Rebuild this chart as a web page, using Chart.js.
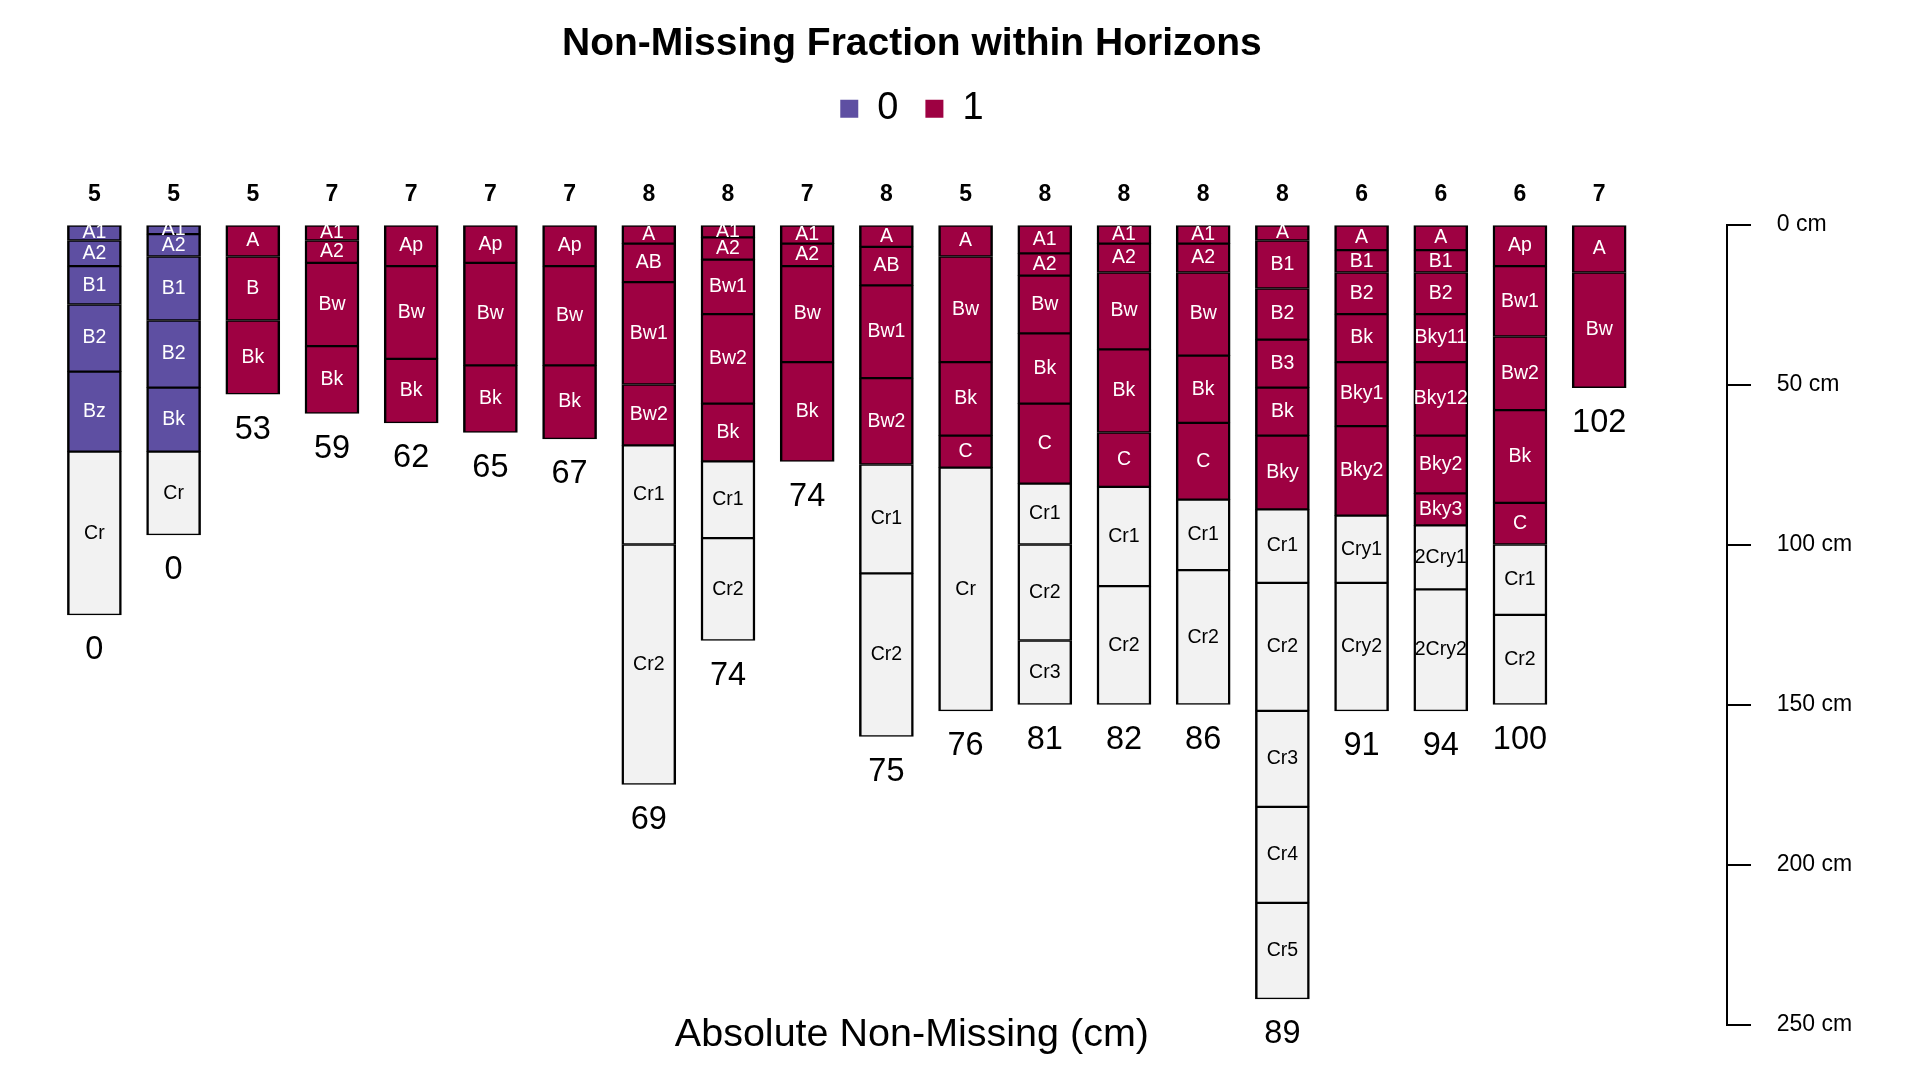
<!DOCTYPE html>
<html>
<head>
<meta charset="utf-8">
<script src="https://cdn.jsdelivr.net/npm/chart.js@4/dist/chart.umd.min.js"></script>
<style>
  html, body { margin: 0; padding: 0; background: #ffffff; }
  #wrap { width: 1920px; height: 1080px; }
</style>
</head>
<body>
<div id="wrap"><canvas id="c" width="1920" height="1080"></canvas></div>
<script>
// ---------------- DATA ----------------
const chartTitle = 'Non-Missing Fraction within Horizons';
const xAxisTitle = 'Absolute Non-Missing (cm)';

// number of horizons shown above each profile
const horizonCounts = [5, 5, 5, 7, 7, 7, 7, 8, 8, 7, 8, 5, 8, 8, 8, 8, 6, 6, 6, 7];
// absolute non-missing depth (cm) shown below each profile
const absNonMissing = [0, 0, 53, 59, 62, 65, 67, 69, 74, 74, 75, 76, 81, 82, 86, 89, 91, 94, 100, 102];

// horizon designations per profile
const horizonNames = [
  ['A1', 'A2', 'B1', 'B2', 'Bz', 'Cr'],
  ['A1', 'A2', 'B1', 'B2', 'Bk', 'Cr'],
  ['A', 'B', 'Bk'],
  ['A1', 'A2', 'Bw', 'Bk'],
  ['Ap', 'Bw', 'Bk'],
  ['Ap', 'Bw', 'Bk'],
  ['Ap', 'Bw', 'Bk'],
  ['A', 'AB', 'Bw1', 'Bw2', 'Cr1', 'Cr2'],
  ['A1', 'A2', 'Bw1', 'Bw2', 'Bk', 'Cr1', 'Cr2'],
  ['A1', 'A2', 'Bw', 'Bk'],
  ['A', 'AB', 'Bw1', 'Bw2', 'Cr1', 'Cr2'],
  ['A', 'Bw', 'Bk', 'C', 'Cr'],
  ['A1', 'A2', 'Bw', 'Bk', 'C', 'Cr1', 'Cr2', 'Cr3'],
  ['A1', 'A2', 'Bw', 'Bk', 'C', 'Cr1', 'Cr2'],
  ['A1', 'A2', 'Bw', 'Bk', 'C', 'Cr1', 'Cr2'],
  ['A', 'B1', 'B2', 'B3', 'Bk', 'Bky', 'Cr1', 'Cr2', 'Cr3', 'Cr4', 'Cr5'],
  ['A', 'B1', 'B2', 'Bk', 'Bky1', 'Bky2', 'Cry1', 'Cry2'],
  ['A', 'B1', 'B2', 'Bky11', 'Bky12', 'Bky2', 'Bky3', '2Cry1', '2Cry2'],
  ['Ap', 'Bw1', 'Bw2', 'Bk', 'C', 'Cr1', 'Cr2'],
  ['A', 'Bw']
];

// horizon bottom depths (cm) per profile
const horizonBottoms = [
  [5, 13, 25, 46, 71, 122],
  [3, 10, 30, 51, 71, 97],
  [10, 30, 53],
  [5, 12, 38, 59],
  [13, 42, 62],
  [12, 44, 65],
  [13, 44, 67],
  [6, 18, 50, 69, 100, 175],
  [4, 11, 28, 56, 74, 98, 130],
  [6, 13, 43, 74],
  [7, 19, 48, 75, 109, 160],
  [10, 43, 66, 76, 152],
  [9, 16, 34, 56, 81, 100, 130, 150],
  [6, 15, 39, 65, 82, 113, 150],
  [6, 15, 41, 62, 86, 108, 150],
  [5, 20, 36, 51, 66, 89, 112, 152, 182, 212, 242],
  [8, 15, 28, 43, 63, 91, 112, 152],
  [8, 15, 28, 43, 66, 84, 94, 114, 152],
  [13, 35, 58, 87, 100, 122, 150],
  [15, 51]
];

// non-missing fraction per horizon (null = not evaluated / NA)
const horizonFraction = [
  [0, 0, 0, 0, 0, null],
  [0, 0, 0, 0, 0, null],
  [1, 1, 1],
  [1, 1, 1, 1],
  [1, 1, 1],
  [1, 1, 1],
  [1, 1, 1],
  [1, 1, 1, 1, null, null],
  [1, 1, 1, 1, 1, null, null],
  [1, 1, 1, 1],
  [1, 1, 1, 1, null, null],
  [1, 1, 1, 1, null],
  [1, 1, 1, 1, 1, null, null, null],
  [1, 1, 1, 1, 1, null, null],
  [1, 1, 1, 1, 1, null, null],
  [1, 1, 1, 1, 1, 1, null, null, null, null, null],
  [1, 1, 1, 1, 1, 1, null, null],
  [1, 1, 1, 1, 1, 1, 1, null, null],
  [1, 1, 1, 1, 1, null, null],
  [1, 1]
];

const legendLabels = ['0', '1'];
const depthTicks = [0, 50, 100, 150, 200, 250];

// ---------------- STYLE ----------------
const FONT = '"Liberation Sans", Arial, Helvetica, sans-serif';
const COLOR_0 = '#5E4FA2';
const COLOR_1 = '#9E0142';
const COLOR_NA = '#F2F2F2';
function fracColor(f) { return f === null ? COLOR_NA : (f === 0 ? COLOR_0 : COLOR_1); }

// widest depth label, used to left-align the mirrored depth labels
const mctx = document.createElement('canvas').getContext('2d');
mctx.font = 'normal 23px ' + FONT;
const widestDepthLabel = Math.max(...depthTicks.map(v => mctx.measureText(v + ' cm').width));

// ---------------- BUILD DATASETS ----------------
const maxHz = Math.max(...horizonNames.map(a => a.length));
const datasets = [];
for (let k = 0; k < maxHz; k++) {
  const data = [];
  const colors = [];
  horizonNames.forEach((names, p) => {
    if (k < names.length) {
      const top = k === 0 ? 0 : horizonBottoms[p][k - 1];
      data.push({ x: p, y: [top, horizonBottoms[p][k]] });
      colors.push(fracColor(horizonFraction[p][k]));
    }
  });
  datasets.push({
    label: 'h' + (k + 1),
    data: data,
    backgroundColor: colors,
    borderColor: '#000000',
    borderWidth: { top: 1.5, bottom: 1.5, left: 2.5, right: 2.5 },
    borderSkipped: false,
    grouped: false,
    barThickness: 54
  });
}

const textPlugin = {
  id: 'profileText',
  afterDatasetsDraw(chart) {
    const ctx = chart.ctx;
    const xs = chart.scales.x, ys = chart.scales.y;
    ctx.save();
    ctx.textAlign = 'center';
    ctx.textBaseline = 'middle';
    // horizon names
    ctx.font = '19.5px ' + FONT;
    chart.data.datasets.forEach((ds, k) => {
      const meta = chart.getDatasetMeta(k);
      meta.data.forEach((el, j) => {
        const p = ds.data[j].x;
        ctx.fillStyle = horizonFraction[p][k] === null ? '#000000' : '#ffffff';
        ctx.fillText(horizonNames[p][k], el.x, (el.y + el.base) / 2);
      });
    });
    // absolute non-missing numbers below profiles
    ctx.fillStyle = '#000000';
    ctx.font = '32.5px ' + FONT;
    absNonMissing.forEach((v, i) => {
      const b = horizonBottoms[i];
      ctx.fillText(String(v), xs.getPixelForValue(i), ys.getPixelForValue(b[b.length - 1]) + 35.5);
    });
    // bottom title
    ctx.font = '39.5px ' + FONT;
    const tb = chart.titleBlock;
    const cx = (tb.left + tb.right) / 2;
    ctx.fillText(xAxisTitle, cx, chart.chartArea.bottom + 11);
    ctx.restore();
  }
};

Chart.defaults.font.family = FONT;
Chart.defaults.color = '#000000';

new Chart(document.getElementById('c'), {
  type: 'bar',
  data: { datasets: datasets },
  options: {
    responsive: false,
    animation: false,
    devicePixelRatio: 1,
    layout: { padding: { left: 54.8, right: 151, top: 24.7, bottom: 55.5 } },
    plugins: {
      title: {
        display: true,
        text: chartTitle,
        color: '#000000',
        font: { family: FONT, size: 39, weight: 'bold', lineHeight: 1.0 },
        padding: { top: 0, bottom: -1 }
      },
      legend: {
        display: true,
        position: 'top',
        onClick: null,
        labels: {
          color: '#000000',
          font: { family: FONT, size: 38 },
          boxWidth: 18,
          boxHeight: 18,
          padding: 27,
          generateLabels: () => legendLabels.map(t => ({
            text: t,
            fillStyle: t === '0' ? COLOR_0 : COLOR_1,
            strokeStyle: t === '0' ? COLOR_0 : COLOR_1,
            lineWidth: 0,
            hidden: false,
            fontColor: '#000000'
          }))
        }
      },
      tooltip: { enabled: false }
    },
    scales: {
      x: {
        type: 'linear',
        position: 'top',
        offset: false,
        min: -0.5,
        max: 20.614,
        grid: { display: false, offset: false },
        border: { display: false },
        afterBuildTicks: (axis) => { axis.ticks = horizonCounts.map((_, i) => ({ value: i })); },
        afterFit: (axis) => { axis.height = 86.8; },
        ticks: {
          autoSkip: false,
          maxRotation: 0,
          padding: 8,
          color: '#000000',
          font: { family: FONT, size: 23, weight: 'bold', lineHeight: 1.2 },
          callback: (v) => (Number.isInteger(v) && v >= 0 && v < horizonCounts.length) ? String(horizonCounts[v]) : ''
        }
      },
      y: {
        type: 'linear',
        position: 'right',
        reverse: true,
        min: 0,
        max: 250,
        afterBuildTicks: (axis) => { axis.ticks = depthTicks.map(v => ({ value: v })); },
        afterFit: (axis) => { axis.width = 42; axis.paddingTop = 0; axis.paddingBottom = 0; },
        grid: { drawOnChartArea: false, drawTicks: true, tickLength: 24, color: '#000000', lineWidth: 2 },
        border: { display: true, color: '#000000', width: 2 },
        ticks: {
          mirror: true,
          crossAlign: 'far',
          padding: 49.7 + widestDepthLabel,
          color: '#000000',
          font: { family: FONT, size: 23 },
          callback: (v) => v + ' cm'
        }
      }
    }
  },
  plugins: [textPlugin]
});
</script>
</body>
</html>
